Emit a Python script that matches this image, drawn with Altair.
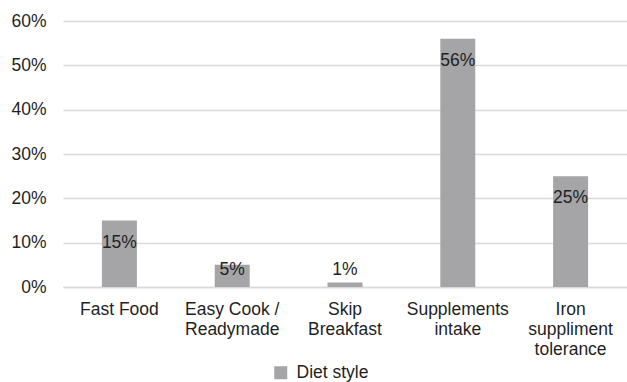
import altair as alt
import pandas as pd

categories = ["Fast Food", "Easy Cook /|Readymade", "Skip|Breakfast",
              "Supplements|intake", "Iron|suppliment|tolerance"]
values = [0.15, 0.05, 0.01, 0.56, 0.25]
labels = ["15%", "5%", "1%", "56%", "25%"]
series = "Diet style"

df = pd.DataFrame({"cat": categories, "val": values, "lab": labels, "series": series})

FONT = "Liberation Sans"
TXT = "#1f1f1f"
FS = 17.5

x = alt.X("cat:N", sort=categories, title=None,
          scale=alt.Scale(paddingInner=0.69, paddingOuter=0.345),
          axis=alt.Axis(labelExpr="split(datum.value, '|')", labelAngle=0,
                        labelFontSize=FS, labelFont=FONT, labelColor=TXT,
                        labelPadding=13, labelLineHeight=20, ticks=False,
                        domain=True, domainColor="#d9d9d9", domainWidth=1.5,
                        grid=False, labelBaseline="top"))

bars = alt.Chart(df).mark_bar(color="#a5a5a7").encode(
    x=x,
    y=alt.Y("val:Q", title=None,
            scale=alt.Scale(domain=[0, 0.6], nice=False),
            axis=alt.Axis(format=".0%", values=[0, 0.1, 0.2, 0.3, 0.4, 0.5, 0.6],
                          labelFontSize=FS, labelFont=FONT, labelColor=TXT,
                          ticks=False, domain=False, labelPadding=17,
                          gridColor="#d9d9d9", gridWidth=1.5)),
    color=alt.Color("series:N", scale=alt.Scale(range=["#a5a5a7"]), title=None,
                    legend=alt.Legend(orient="none", legendX=209, legendY=343,
                                      symbolType="square", symbolSize=169,
                                      symbolStrokeWidth=0,
                                      labelFontSize=FS, labelFont=FONT,
                                      labelColor=TXT, labelOffset=7)),
)

text = alt.Chart(df).transform_calculate(
    ly="max(datum.val - 0.05, 0.038)"
).mark_text(fontSize=FS, font=FONT, color=TXT, baseline="middle").encode(
    x=alt.X("cat:N", sort=categories),
    y=alt.Y("ly:Q"),
    text="lab:N",
)

chart = alt.layer(bars, text).properties(
    width=564, height=266,
    background="white",
    autosize=alt.AutoSizeParams(type="none"),
    padding={"left": 63, "top": 21, "right": 0, "bottom": 95},
).configure_view(stroke=None)

chart.save("out.html", embed_options={"renderer": "svg", "actions": False})
